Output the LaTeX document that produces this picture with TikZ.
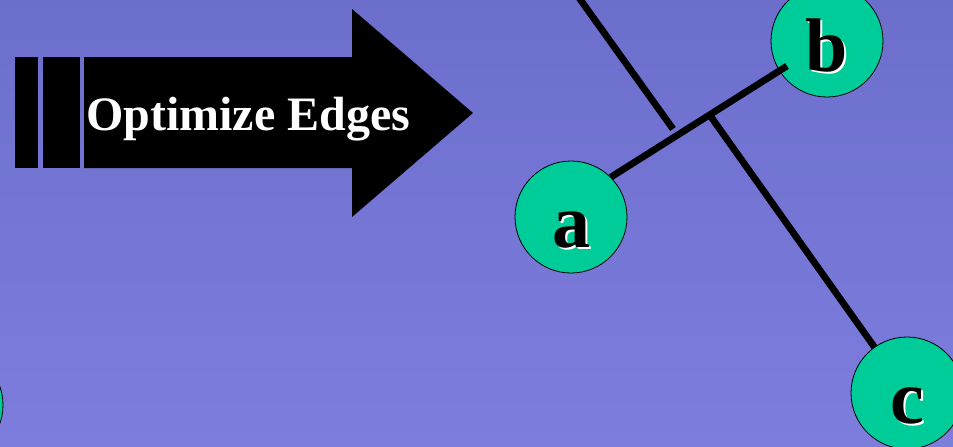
\documentclass[tikz,border=0pt]{standalone}
\usepackage{fontspec}
\setmainfont{Liberation Serif}
\definecolor{bgtop}{RGB}{108,110,204}
\definecolor{bgbot}{RGB}{125,125,221}
\definecolor{nodegreen}{RGB}{0,204,153}
\begin{document}
\begin{tikzpicture}[x=1pt,y=-1pt,
  vertex/.style={circle,draw=black,line width=0.8pt,fill=nodegreen,minimum size=112pt,inner sep=0pt},
  lettr/.style={font=\fontsize{76}{76}\selectfont\bfseries,inner sep=0pt,anchor=base},
  edge/.style={line width=6.8pt,black}]
\useasboundingbox (0,0) rectangle (953,447);
\shade[top color=bgtop,bottom color=bgbot] (0,0) rectangle (953,447);
% arrow
\fill[black] (15,57) rectangle (38,168);
\fill[black] (43,57) rectangle (80,168);
\fill[black] (84,57) -- (352,57) -- (352,9) -- (473,113) -- (352,217) -- (352,168) -- (84,168) -- cycle;
\node[font=\fontsize{48}{48}\selectfont\bfseries,text=white,anchor=base west,inner sep=0pt] (title) at (86,130) {Optimize Edges};
% vertices
\node[vertex] (a) at (571,217) {};
\node[vertex] (b) at (827,41) {};
\node[vertex] (c) at (907,393) {};
\node[vertex] (d) at (-53,405) {};
\foreach \n/\t in {a/a,b/b,c/c}{
  \node[lettr,text=white] (\n s) at ([xshift=2pt,yshift=-32pt]\n.center) {\t};
  \node[lettr,text=black] (\n l) at ([yshift=-30pt]\n.center) {\t};
}
% edges
\coordinate (p1) at (577,-5);
\coordinate (p2) at (673,129);
\coordinate (bend) at (787,66);
\coordinate (j) at (709,114);
\draw[edge] (p1) -- (p2);
\draw[edge] (a.45) -- (bend);
\draw[edge] (j) -- (c);
\end{tikzpicture}
\end{document}
